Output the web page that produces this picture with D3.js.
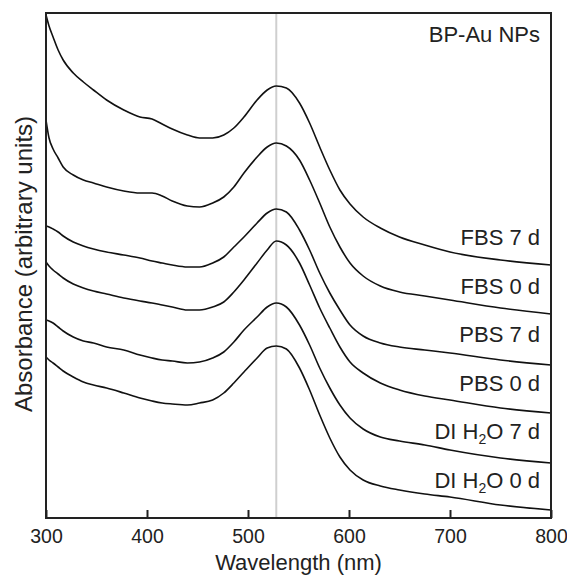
<!DOCTYPE html>
<html>
<head>
<meta charset="utf-8">
<script src="https://cdn.jsdelivr.net/npm/d3@7"></script>
<style>
  body { margin: 0; background: #fff; }
  text { font-family: "Liberation Sans", Arial, sans-serif; fill: #222; }
</style>
</head>
<body>
<script>
// wavelengths (nm) shared by every spectrum
const wavelengths = [300, 303, 307, 312, 317, 327, 337, 347, 360, 377, 393, 405, 415, 425, 440, 452, 465, 476, 486, 496,
                     509, 519, 528, 538, 551, 561, 571, 581, 591, 601, 614, 631, 650, 675, 700, 750, 800];

// absorbance, stacked with offsets (arbitrary units)
const fbs7 = [5.03, 4.92, 4.81, 4.68, 4.58, 4.45, 4.36, 4.28, 4.18, 4.08, 4.01, 3.99, 3.94, 3.89, 3.83, 3.80, 3.80, 3.83, 3.90, 4.01,
              4.18, 4.28, 4.32, 4.30, 4.15, 3.95, 3.71, 3.48, 3.28, 3.14, 3.01, 2.90, 2.81, 2.73, 2.66, 2.58, 2.53];
const fbs0 = [3.98, 3.80, 3.69, 3.60, 3.51, 3.43, 3.38, 3.35, 3.31, 3.27, 3.25, 3.25, 3.22, 3.17, 3.12, 3.11, 3.15, 3.21, 3.31, 3.45,
              3.61, 3.71, 3.75, 3.72, 3.58, 3.38, 3.15, 2.91, 2.71, 2.55, 2.42, 2.32, 2.26, 2.22, 2.18, 2.10, 2.04];
const pbs7 = [2.92, 2.91, 2.89, 2.86, 2.82, 2.76, 2.72, 2.69, 2.66, 2.63, 2.60, 2.57, 2.55, 2.53, 2.51, 2.51, 2.55, 2.61, 2.71, 2.81,
              2.95, 3.05, 3.09, 3.06, 2.88, 2.68, 2.45, 2.25, 2.08, 1.93, 1.82, 1.75, 1.71, 1.68, 1.65, 1.58, 1.53];
const pbs0 = [2.56, 2.52, 2.48, 2.44, 2.40, 2.34, 2.30, 2.27, 2.24, 2.20, 2.17, 2.15, 2.13, 2.11, 2.08, 2.08, 2.11, 2.16, 2.26, 2.38,
              2.55, 2.68, 2.77, 2.73, 2.55, 2.33, 2.10, 1.90, 1.71, 1.56, 1.45, 1.35, 1.28, 1.22, 1.18, 1.10, 1.05];
const di7  = [1.98, 1.97, 1.95, 1.91, 1.87, 1.81, 1.77, 1.75, 1.71, 1.68, 1.63, 1.60, 1.58, 1.57, 1.55, 1.56, 1.60, 1.66, 1.76, 1.88,
              2.01, 2.11, 2.15, 2.11, 1.93, 1.73, 1.50, 1.30, 1.13, 1.00, 0.89, 0.81, 0.77, 0.73, 0.68, 0.60, 0.55];
const di0  = [1.61, 1.58, 1.55, 1.51, 1.47, 1.41, 1.36, 1.33, 1.30, 1.25, 1.20, 1.17, 1.15, 1.14, 1.13, 1.15, 1.18, 1.25, 1.35, 1.46,
              1.60, 1.70, 1.72, 1.69, 1.50, 1.28, 1.03, 0.80, 0.61, 0.48, 0.38, 0.32, 0.28, 0.24, 0.21, 0.13, 0.08];

const series = [fbs7, fbs0, pbs7, pbs0, di7, di0];
const labels = [['FBS 7 d'], ['FBS 0 d'], ['PBS 7 d'], ['PBS 0 d'], ['DI H', '2', 'O 7 d'], ['DI H', '2', 'O 0 d']];
const labelBase = [245, 293.5, 342, 390.5, 439, 488];
const xTicks = [300, 400, 500, 600, 700, 800];
const peak = 528;

const w = 567,
      h = 575,
      mLeft = 46, mRight = 551,
      mTop = 13, mBottom = 518;

const svg = d3.select('body')
            .append('svg')
            .attr('width', w)
            .attr('height', h);

const xScale = d3.scaleLinear()
                .domain([300, 800])
                .range([mLeft, mRight]);

const yScale = d3.scaleLinear()
                .domain([0, 5.05])
                .range([mBottom, mTop]);

// grey marker at plasmon peak
svg.append('line')
    .attr('x1', xScale(peak)).attr('x2', xScale(peak))
    .attr('y1', mTop).attr('y2', mBottom)
    .attr('stroke', '#cfcfcf')
    .attr('stroke-width', 2);

const line = d3.line()
              .x((d, i) => xScale(wavelengths[i]))
              .y((d) => yScale(d))
              .curve(d3.curveMonotoneX);

svg.selectAll('path.spec')
    .data(series)
    .enter()
    .append('path')
    .attr('class', 'spec')
    .attr('d', line)
    .attr('fill', 'none')
    .attr('stroke', '#111')
    .attr('stroke-width', 1.6);

// frame
svg.append('rect')
    .attr('x', mLeft).attr('y', mTop)
    .attr('width', mRight - mLeft).attr('height', mBottom - mTop)
    .attr('fill', 'none')
    .attr('stroke', '#222')
    .attr('stroke-width', 2);

const xAxis = d3.axisBottom(xScale)
                .tickValues(xTicks)
                .tickSize(-8)
                .tickPadding(11);

const gx = svg.append('g')
    .attr('transform', 'translate(0,' + mBottom + ')')
    .call(xAxis);
gx.select('.domain').remove();
gx.selectAll('line').attr('stroke', '#222').attr('stroke-width', 2);
gx.selectAll('text')
    .attr('font-size', 19.5)
    .attr('font-family', '"Liberation Sans", Arial, sans-serif')
    .attr('fill', '#222');

svg.append('text')
    .attr('x', (mLeft + mRight) / 2)
    .attr('y', 569.5)
    .attr('text-anchor', 'middle')
    .attr('font-size', 22)
    .text('Wavelength (nm)');

svg.append('text')
    .attr('transform', 'translate(32,264) rotate(-90)')
    .attr('text-anchor', 'middle')
    .attr('font-size', 24)
    .text('Absorbance (arbitrary units)');

svg.append('text')
    .attr('x', 540)
    .attr('y', 41.5)
    .attr('text-anchor', 'end')
    .attr('font-size', 22)
    .text('BP-Au NPs');

labels.forEach((parts, i) => {
    const t = svg.append('text')
        .attr('x', 540)
        .attr('y', labelBase[i])
        .attr('text-anchor', 'end')
        .attr('font-size', 22);
    if (parts.length === 1) {
        t.text(parts[0]);
    } else {
        t.append('tspan').text(parts[0]);
        t.append('tspan').attr('font-size', 14).attr('dy', 5).text(parts[1]);
        t.append('tspan').attr('dy', -5).text(parts[2]);
    }
});
</script>
</body>
</html>
